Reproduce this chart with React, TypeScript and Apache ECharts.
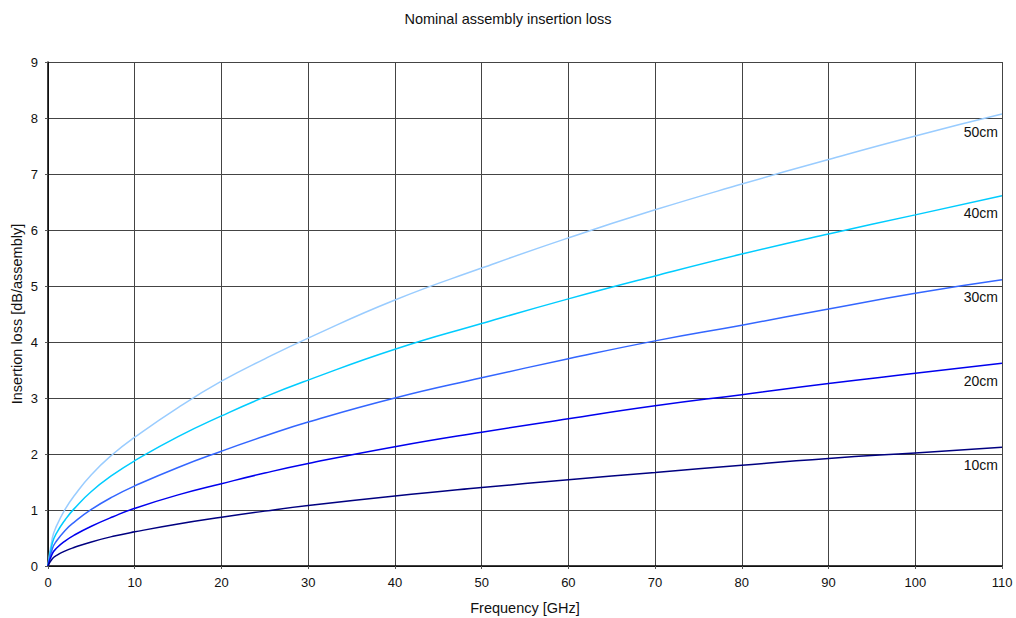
import React, { useEffect, useRef } from "react";
import * as echarts from "echarts";

const freqs = [0, 0.5, 1, 2, 3, 5, 7.5, 10, 15, 20, 25, 30, 40, 50, 60, 70, 80, 90, 100, 110];
const loss50 = [0, 0.5, 0.72, 1.02, 1.25, 1.63, 2.0, 2.3, 2.83, 3.3, 3.7, 4.07, 4.75, 5.32, 5.86, 6.36, 6.82, 7.26, 7.68, 8.07];
const loss40 = [0, 0.41, 0.59, 0.83, 1.02, 1.33, 1.63, 1.88, 2.31, 2.68, 3.02, 3.32, 3.87, 4.33, 4.77, 5.18, 5.57, 5.93, 6.27, 6.61];
const loss30 = [0, 0.31, 0.45, 0.64, 0.78, 1.01, 1.24, 1.43, 1.76, 2.05, 2.32, 2.57, 3.0, 3.36, 3.7, 4.02, 4.3, 4.59, 4.87, 5.11];
const loss20 = [0, 0.22, 0.32, 0.45, 0.55, 0.71, 0.88, 1.03, 1.27, 1.47, 1.66, 1.83, 2.13, 2.39, 2.63, 2.86, 3.06, 3.26, 3.44, 3.62];
const loss10 = [0, 0.13, 0.19, 0.27, 0.33, 0.43, 0.53, 0.61, 0.75, 0.87, 0.98, 1.08, 1.25, 1.4, 1.54, 1.67, 1.8, 1.92, 2.02, 2.12];

const seriesNames = ["50cm", "40cm", "30cm", "20cm", "10cm"];
const seriesValues = [loss50, loss40, loss30, loss20, loss10];
const seriesColors = ["#99ccff", "#00ccff", "#3366ff", "#0000ee", "#000080"];

const FONT = "Liberation Sans";

export default function App() {
  const ref = useRef<HTMLDivElement>(null);
  useEffect(() => {
    if (!ref.current) return;
    const chart = echarts.init(ref.current, null, { renderer: "svg" });
    const series = seriesNames.map((name, si) => {
      const vals = seriesValues[si];
      const last = freqs.length - 1;
      return {
        name,
        type: "line",
        showSymbol: false,
        symbol: "none",
        smooth: true,
        lineStyle: { color: seriesColors[si], width: 1.5 },
        data: freqs.map((f, i) => [f, vals[i]]),
        markPoint: {
          symbol: "circle",
          symbolSize: 1,
          itemStyle: { color: "rgba(0,0,0,0)" },
          silent: true,
          data: [
            {
              coord: [freqs[last], vals[last]],
              label: {
                show: true,
                formatter: name,
                position: "bottom",
                align: "right",
                offset: [-4, 5],
                color: "#111",
                fontFamily: FONT,
                fontSize: 14,
              },
            },
          ],
        },
      };
    });
    chart.setOption({
      animation: false,
      backgroundColor: "#fff",
      title: {
        text: "Nominal assembly insertion loss",
        left: "center",
        top: 6,
        textStyle: { fontFamily: FONT, fontSize: 14.5, fontWeight: "normal", color: "#111" },
      },
      grid: { left: 48, right: 14, top: 62, bottom: 52, containLabel: false, outerBoundsMode: "none" },
      xAxis: {
        type: "value",
        min: 0,
        max: 110,
        interval: 10,
        name: "Frequency [GHz]",
        nameLocation: "middle",
        nameGap: 34,
        nameMoveOverlap: false,
        nameTextStyle: { fontFamily: FONT, fontSize: 14.5, color: "#111" },
        axisLine: { show: true, lineStyle: { color: "#000", width: 1.5 } },
        axisTick: { show: true, length: 3, lineStyle: { color: "#555" } },
        axisLabel: { fontFamily: FONT, fontSize: 13, color: "#111", margin: 10 },
        splitLine: { show: true, lineStyle: { color: "#444", width: 1 } },
      },
      yAxis: {
        type: "value",
        min: 0,
        max: 9,
        interval: 1,
        name: "Insertion loss [dB/assembly]",
        nameLocation: "middle",
        nameGap: 24,
        nameMoveOverlap: false,
        nameTextStyle: { fontFamily: FONT, fontSize: 14.5, color: "#111" },
        axisLine: { show: true, lineStyle: { color: "#000", width: 1.5 } },
        axisTick: { show: true, length: 3, lineStyle: { color: "#555" } },
        axisLabel: { fontFamily: FONT, fontSize: 13, color: "#111", margin: 10 },
        splitLine: { show: true, lineStyle: { color: "#444", width: 1 } },
      },
      series,
    });
    return () => chart.dispose();
  }, []);
  return <div ref={ref} style={{ width: 1016, height: 618, position: "absolute", left: 0, top: 0 }} />;
}
